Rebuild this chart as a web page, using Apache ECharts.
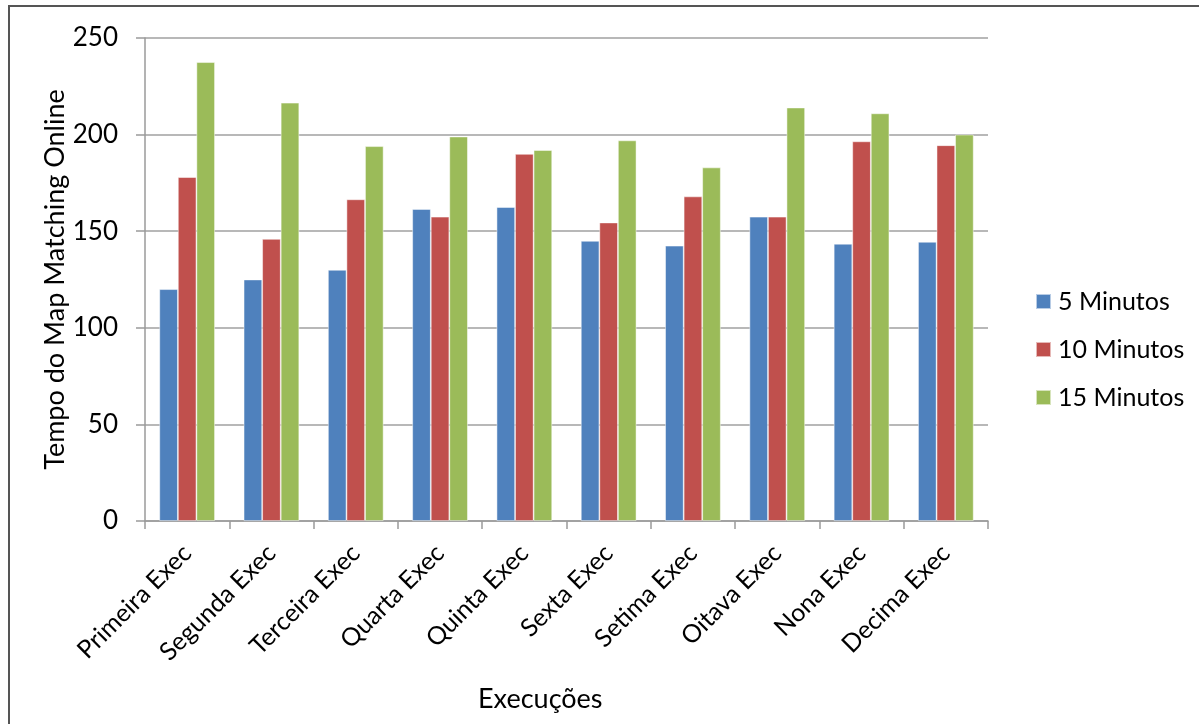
<!DOCTYPE html>
<html>
<head>
<meta charset="utf-8">
<script src="https://cdn.jsdelivr.net/npm/echarts@6/dist/echarts.min.js"></script>
<style>
html,body{margin:0;padding:0;background:#fff;}
#chart{width:1199px;height:724px;}
</style>
</head>
<body>
<div id="chart"></div>
<script>
const categories = ['Primeira Exec','Segunda Exec','Terceira Exec','Quarta Exec','Quinta Exec','Sexta Exec','Setima Exec','Oitava Exec','Nona Exec','Decima Exec'];
const seriesNames = ['5 Minutos','10 Minutos','15 Minutos'];
const min5 = [120, 125, 130, 161.5, 162.5, 145, 142.5, 157.5, 143.5, 144.5];
const min10 = [178, 146, 166.5, 157.5, 190, 154.5, 168, 157.5, 196.5, 194.5];
const min15 = [237.5, 216.5, 194, 199, 192, 197, 183, 214, 211, 200];
const yTicks = {min: 0, max: 250, interval: 50};
const colors = ['#4F81BD', '#C0504D', '#9BBB59'];
const FONT = 'Lato';

const chart = echarts.init(document.getElementById('chart'));
const values = [min5, min10, min15];
chart.setOption({
  animation: false,
  backgroundColor: '#fff',
  textStyle: {fontFamily: FONT, color: '#000'},
  grid: {left: 145, right: 211, top: 38, bottom: 203, containLabel: false},
  legend: {
    orient: 'vertical',
    left: 1030,
    top: 284,
    itemWidth: 15,
    itemHeight: 15,
    itemGap: 23,
    icon: 'rect',
    textStyle: {fontFamily: FONT, fontSize: 25, color: '#000', padding: [0, 0, 0, 2]},
    data: seriesNames
  },
  xAxis: {
    type: 'category',
    data: categories,
    axisLine: {lineStyle: {color: '#9a9a9a', width: 1.5}},
    axisTick: {show: true, alignWithLabel: false, length: 8, lineStyle: {color: '#9a9a9a', width: 1.5}},
    axisLabel: {rotate: 45, fontFamily: FONT, fontSize: 25, color: '#000', margin: 28, interval: 0}
  },
  yAxis: {
    type: 'value',
    min: yTicks.min, max: yTicks.max, interval: yTicks.interval,
    name: 'Tempo do Map Matching Online',
    nameLocation: 'middle',
    nameGap: 76,
    nameMoveOverlap: false,
    nameRotate: 90,
    nameTextStyle: {fontFamily: FONT, fontSize: 27, color: '#000'},
    axisLine: {show: true, lineStyle: {color: '#9a9a9a', width: 1.5}},
    axisTick: {show: true, length: 9, lineStyle: {color: '#9a9a9a', width: 1.5}},
    axisLabel: {fontFamily: FONT, fontSize: 26, color: '#000', margin: 27},
    splitLine: {lineStyle: {color: '#a0a0a0', width: 1.5}}
  },
  graphic: [
    {type: 'rect', shape: {x: 9, y: 6, width: 1300, height: 800}, style: {fill: 'none', stroke: '#555', lineWidth: 2}, silent: true},
    {type: 'text', left: 478, top: 686, style: {text: 'Execuções', fontFamily: FONT, fontSize: 27, fill: '#000'}}
  ],
  series: seriesNames.map((n, i) => ({
    name: n,
    type: 'bar',
    data: values[i],
    barGap: '0%',
    barCategoryGap: '34%',
    itemStyle: {color: colors[i], borderColor: 'rgba(255,255,255,0.6)', borderWidth: 0.8}
  }))
});
</script>
</body>
</html>
